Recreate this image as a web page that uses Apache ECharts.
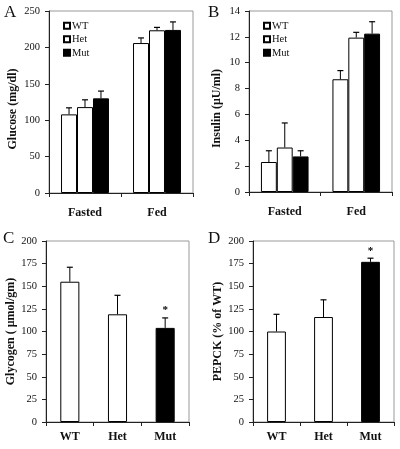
<!DOCTYPE html>
<html>
<head>
<meta charset="utf-8">
<script src="https://cdn.jsdelivr.net/npm/echarts@6/dist/echarts.min.js"></script>
<style>
html,body{margin:0;padding:0;background:#fff;}
#chart{width:400px;height:449px;}
</style>
</head>
<body>
<div id="chart"></div>
<script>
// ---- data ----
const conditions = ['Fasted', 'Fed'];
const genotypes = ['WT', 'Het', 'Mut'];
const genotypeColors = ['#ffffff', '#ffffff', '#000000'];

// Panel A: glucose (mg/dl), per genotype [Fasted, Fed]
const glucoseWT = [108, 206];
const glucoseHet = [118, 223.5];
const glucoseMut = [130, 224];
const glucoseWTErr = [9, 7];
const glucoseHetErr = [10, 4];
const glucoseMutErr = [10, 11];

// Panel B: insulin (uU/ml)
const insulinWT = [2.32, 8.72];
const insulinHet = [3.44, 11.94];
const insulinMut = [2.75, 12.25];
const insulinWTErr = [0.87, 0.67];
const insulinHetErr = [1.9, 0.41];
const insulinMutErr = [0.44, 0.92];

// Panel C: glycogen (umol/gm)
const glycogen = [155, 119, 104];
const glycogenErr = [16, 21, 11];
const glycogenSig = [false, false, true];

// Panel D: PEPCK (% of WT)
const pepck = [100, 116, 177];
const pepckErr = [19, 19, 4];
const pepckSig = [false, false, true];

// tick settings
const glucoseTicks = {min: 0, max: 250, interval: 50};
const insulinTicks = {min: 0, max: 14, interval: 2};
const glycogenTicks = {min: 0, max: 200, interval: 25};
const pepckTicks = {min: 0, max: 200, interval: 25};

// ---- styling ----
const FONT = "'Liberation Serif', 'Times New Roman', serif";
const grids = [
  {left: 49, top: 11, width: 144, height: 182},
  {left: 249, top: 11, width: 143, height: 181},
  {left: 46, top: 241, width: 143, height: 181},
  {left: 253, top: 241, width: 141, height: 181}
];

function yAxis(gridIndex, ticks, name, nameGap, shiftDown) {
  return Object.assign({
    type: 'value', gridIndex: gridIndex,
    name: name, nameLocation: 'middle', nameGap: nameGap,
    nameTextStyle: {fontFamily: FONT, fontWeight: 'bold', fontSize: 12, color: '#111',
      padding: [0, shiftDown * 2, 0, 0]},
    axisLine: {show: true, lineStyle: {color: '#222', width: 1}},
    axisTick: {show: true, length: 4, lineStyle: {color: '#222'}},
    axisLabel: {fontFamily: FONT, fontSize: 10.5, color: '#111', margin: 9},
    splitLine: {show: false}
  }, ticks);
}
function xAxis(gridIndex, cats, margin) {
  return {
    type: 'category', gridIndex: gridIndex, data: cats,
    axisLine: {show: true, lineStyle: {color: '#222', width: 1}},
    axisTick: {show: true, length: 4, lineStyle: {color: '#222'}},
    axisLabel: {fontFamily: FONT, fontWeight: 'bold', fontSize: 12, color: '#111', margin: margin},
    splitLine: {show: false}
  };
}

function errSeries(axisIdx, means, errs, offsetIdx, barFrac, sig, name) {
  const data = means.map((m, i) => [i, m, errs[i], sig ? (sig[i] ? 1 : 0) : 0]);
  return {
    type: 'custom', name: name, xAxisIndex: axisIdx, yAxisIndex: axisIdx, z: 5,
    silent: true,
    encode: {x: 0, y: 1},
    data: data,
    renderItem: function (params, api) {
      const cat = api.value(0), val = api.value(1), err = api.value(2), s = api.value(3);
      const band = api.size([1, 0])[0];
      const base = api.coord([cat, val]);
      const top = api.coord([cat, val + err]);
      const x = base[0] + offsetIdx * band * barFrac;
      const cap = 3;
      const children = [
        {type: 'line', shape: {x1: x, y1: base[1], x2: x, y2: top[1]}, style: {stroke: '#000', lineWidth: 1}},
        {type: 'line', shape: {x1: x - cap, y1: top[1], x2: x + cap, y2: top[1]}, style: {stroke: '#000', lineWidth: 1.2}}
      ];
      if (s) {
        children.push({type: 'text', style: {text: '*', x: x, y: top[1] - 2, fill: '#000',
          font: 'bold 11px ' + FONT, align: 'center', verticalAlign: 'bottom'}});
      }
      return {type: 'group', children: children};
    }
  };
}

const groupFrac = 0.222;
const series = [];
const glucose = [glucoseWT, glucoseHet, glucoseMut];
const glucoseErr = [glucoseWTErr, glucoseHetErr, glucoseMutErr];
const insulin = [insulinWT, insulinHet, insulinMut];
const insulinErr = [insulinWTErr, insulinHetErr, insulinMutErr];

genotypes.forEach((g, k) => {
  series.push({
    type: 'bar', name: g, xAxisIndex: 0, yAxisIndex: 0, data: glucose[k],
    barWidth: (groupFrac * 100) + '%', barGap: '0%',
    itemStyle: {color: genotypeColors[k], borderColor: '#000', borderWidth: 1}
  });
});
genotypes.forEach((g, k) => {
  series.push({
    type: 'bar', name: g, xAxisIndex: 1, yAxisIndex: 1, data: insulin[k],
    barWidth: (groupFrac * 100) + '%', barGap: '0%',
    itemStyle: {color: genotypeColors[k], borderColor: '#000', borderWidth: 1}
  });
});
genotypes.forEach((g, k) => {
  series.push(errSeries(0, glucose[k], glucoseErr[k], k - 1, groupFrac, null, 'errA' + k));
  series.push(errSeries(1, insulin[k], insulinErr[k], k - 1, groupFrac, null, 'errB' + k));
});

series.push({
  type: 'bar', name: 'Glycogen', xAxisIndex: 2, yAxisIndex: 2, barWidth: '40%',
  data: glycogen.map((v, i) => ({value: v, itemStyle: {color: genotypeColors[i], borderColor: '#000', borderWidth: 1}}))
});
series.push(errSeries(2, glycogen, glycogenErr, 0, 0, glycogenSig, 'errC'));
series.push({
  type: 'bar', name: 'PEPCK', xAxisIndex: 3, yAxisIndex: 3, barWidth: '40%',
  data: pepck.map((v, i) => ({value: v, itemStyle: {color: genotypeColors[i], borderColor: '#000', borderWidth: 1}}))
});
series.push(errSeries(3, pepck, pepckErr, 0, 0, pepckSig, 'errD'));

function legend(left) {
  return {
    data: genotypes, orient: 'vertical', left: left, top: 19, padding: 0,
    itemWidth: 6, itemHeight: 6, itemGap: 0, icon: 'rect',
    selectedMode: false,
    textStyle: {fontFamily: FONT, fontSize: 10.5, color: '#111', lineHeight: 13.5, padding: [0, 0, 0, -3]}
  };
}

const panelLetters = [['A', 4, 4], ['B', 208, 4], ['C', 3, 230], ['D', 208, 230]];

const option = {
  animation: false,
  backgroundColor: '#fff',
  grid: grids.map(g => Object.assign({show: true, borderColor: '#999', borderWidth: 1, backgroundColor: 'transparent'}, g)),
  xAxis: [xAxis(0, conditions, 14), xAxis(1, conditions, 14), xAxis(2, genotypes, 9), xAxis(3, genotypes, 9)],
  yAxis: [
    yAxis(0, glucoseTicks, 'Glucose (mg/dl)', 30, 7),
    yAxis(1, insulinTicks, 'Insulin (μU/ml)', 26, 7),
    yAxis(2, glycogenTicks, 'Glycogen ( μmol/gm)', 29, 0),
    yAxis(3, pepckTicks, 'PEPCK (% of WT)', 29, 0)
  ],
  legend: [legend(63), legend(263)],
  graphic: panelLetters.map(p => ({
    type: 'text', left: p[1], top: p[2],
    style: {text: p[0], font: '17px ' + FONT, fill: '#111'}
  })),
  series: series
};

const chart = echarts.init(document.getElementById('chart'), null, {renderer: 'canvas'});
chart.setOption(option);
</script>
</body>
</html>
